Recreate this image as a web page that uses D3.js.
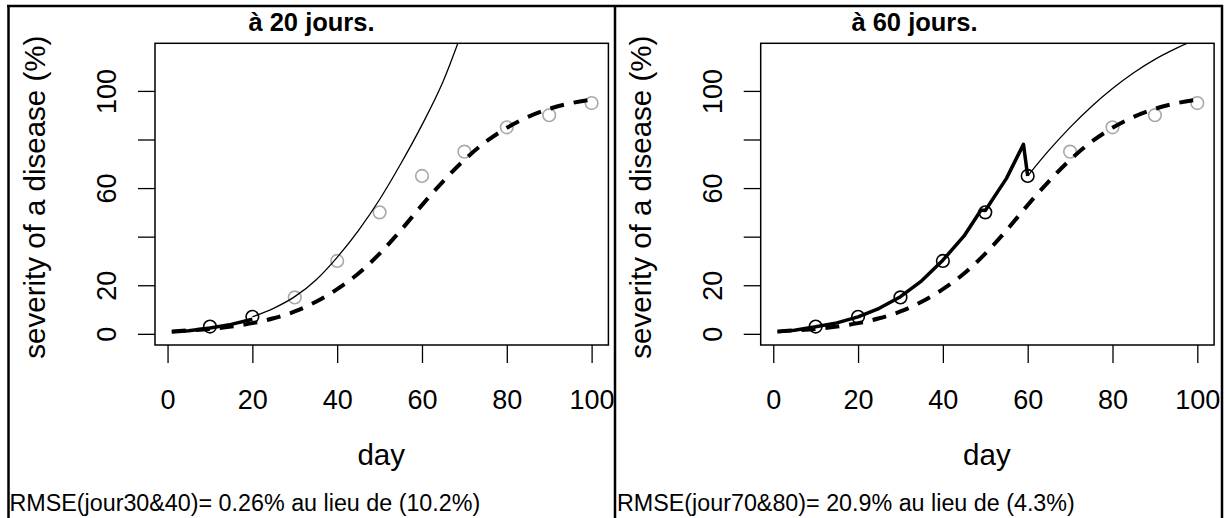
<!DOCTYPE html>
<html>
<head>
<meta charset="utf-8">
<script src="https://cdn.jsdelivr.net/npm/d3@7"></script>
<style>
  body { margin: 0; background: #fff; }
  svg text { font-family: "Liberation Sans", Arial, sans-serif; fill: #000; }
</style>
</head>
<body>
<script>
// observations (same for both panels)
var obsDays = [10, 20, 30, 40, 50, 60, 70, 80, 90, 100];
var obsVals = [3, 7, 15, 30, 50, 65, 75, 85, 90, 95];

// dashed reference curve
var refDays = [1, 5, 10, 15, 20, 25, 30, 35, 40, 45, 50, 55, 60, 65, 70, 75, 80, 85, 90, 95, 100];
var refVals = [1.0, 1.4, 2.0, 3.0, 4.4, 6.4, 9.2, 13.2, 18.4, 24.8, 33.0, 42.6, 53.0, 62.8, 71.6, 79.0, 84.8, 89.3, 92.6, 94.9, 96.4];

// panel 1 : assimilation up to day 20
var fit1Days = [1, 5, 10, 15, 20];
var fit1Vals = [0.7, 1.3, 2.4, 3.9, 6.0];
var fore1Days = [20, 25, 30, 35, 40, 45, 50, 55, 60, 65, 70];
var fore1Vals = [7.0, 10.5, 15.3, 22.2, 31.5, 42.5, 55.3, 70.0, 86.0, 104.0, 127.0];

// panel 2 : assimilation up to day 60
var fit2Days = [1, 5, 10, 15, 20, 25, 30, 35, 40, 45, 49, 50, 55, 59, 60];
var fit2Vals = [0.8, 1.5, 2.9, 4.5, 7.0, 10.5, 15.3, 21.8, 30.3, 40.3, 51.0, 50.8, 64.0, 78.0, 65.0];
var fore2Days = [60, 65, 70, 75, 80, 85, 90, 95, 100];
var fore2Vals = [65.0, 75.5, 85.0, 93.5, 101.0, 107.5, 113.0, 117.5, 121.5];

var xTicks = [0, 20, 40, 60, 80, 100];
var yTicks = [0, 20, 40, 60, 80, 100];
var yTickLabels = ["0", "20", "", "60", "", "100"];

var titles = ["à 20 jours.", "à 60 jours."];
var notes = ["RMSE(jour30&40)= 0.26% au lieu de (10.2%)", "RMSE(jour70&80)= 20.9% au lieu de (4.3%)"];
var nUsed = [2, 6];

var W = 1226, H = 518;
var svg = d3.select("body").append("svg").attr("width", W).attr("height", H);

var pw = 453.4, ph = 301.7;
var x = d3.scaleLinear().domain([-2.96, 103.96]).range([0, pw]);
var y = d3.scaleLinear().domain([-4.6, 119.6]).range([ph, 0]);

function pairs(a, b) { return a.map(function(v, i){ return [v, b[i]]; }); }

// outer frames
svg.append("line").attr("x1", 7).attr("x2", 1223).attr("y1", 6).attr("y2", 6)
  .attr("stroke", "#000").attr("stroke-width", 2.5);
[8.5, 615, 1222].forEach(function(px){
  svg.append("line").attr("x1", px).attr("x2", px).attr("y1", 5).attr("y2", H)
    .attr("stroke", "#000").attr("stroke-width", 2.5);
});

function drawPanel(k, ox, fitD, fitV, foreD, foreV) {
  var g = svg.append("g").attr("transform", "translate(" + ox + ",43.3)");

  g.append("clipPath").attr("id", "clip" + k)
    .append("rect").attr("width", pw).attr("height", ph);

  // axes
  var xa = g.append("g").attr("transform", "translate(0," + ph + ")")
    .call(d3.axisBottom(x).tickValues(xTicks).tickSize(18));
  var ya = g.append("g")
    .call(d3.axisLeft(y).tickValues(yTicks).tickSize(17)
      .tickFormat(function(d, i){ return yTickLabels[i]; }));
  [xa, ya].forEach(function(a){
    a.select(".domain").remove();
    a.selectAll(".tick line").attr("stroke", "#000").attr("stroke-width", 1.3);
    a.selectAll("text").attr("font-size", 27).attr("font-family", "Liberation Sans, Arial, sans-serif").attr("fill", "#000");
  });
  xa.selectAll("text").attr("dy", null).attr("y", 64);
  ya.selectAll("text").attr("x", null).attr("dy", null)
    .attr("transform", "translate(-39,0) rotate(-90)")
    .attr("text-anchor", "middle");

  g.append("rect").attr("width", pw).attr("height", ph)
    .attr("fill", "none").attr("stroke", "#000").attr("stroke-width", 1.5);

  var plot = g.append("g").attr("clip-path", "url(#clip" + k + ")");

  plot.selectAll("circle").data(pairs(obsDays, obsVals)).enter().append("circle")
    .attr("cx", function(d){ return x(d[0]); })
    .attr("cy", function(d){ return y(d[1]); })
    .attr("r", 6.3)
    .attr("fill", "none")
    .attr("stroke", function(d, i){ return i < nUsed[k] ? "#000" : "#a9a9a9"; })
    .attr("stroke-width", 1.6);

  var lin = d3.line().x(function(d){ return x(d[0]); }).y(function(d){ return y(d[1]); });
  var smooth = d3.line().curve(d3.curveMonotoneX)
    .x(function(d){ return x(d[0]); }).y(function(d){ return y(d[1]); });

  plot.append("path").datum(pairs(refDays, refVals)).attr("d", smooth)
    .attr("fill", "none").attr("stroke", "#000").attr("stroke-width", 4)
    .attr("stroke-dasharray", "14,10");
  plot.append("path").datum(pairs(fitD, fitV)).attr("d", lin)
    .attr("fill", "none").attr("stroke", "#000").attr("stroke-width", 3.5)
    .attr("stroke-linejoin", "round");
  plot.append("path").datum(pairs(foreD, foreV)).attr("d", smooth)
    .attr("fill", "none").attr("stroke", "#000").attr("stroke-width", 1.3);

  // labels
  g.append("text").attr("x", pw / 2 - 0.5).attr("y", 422)
    .attr("text-anchor", "middle").attr("font-size", 29.5).text("day");
  g.append("text").attr("transform", "translate(" + (-110) + "," + (ph / 2 + 3) + ") rotate(-90)")
    .attr("text-anchor", "middle").attr("font-size", 29.5).text("severity of a disease (%)");
  g.append("text").attr("x", 311.5 - ox + (k ? 603 : 0)).attr("y", -12.5)
    .attr("text-anchor", "middle").attr("font-size", 25.5).attr("font-weight", "bold")
    .text(titles[k]);
  g.append("text").attr("x", (k ? 617 : 9.5) - ox).attr("y", 468)
    .attr("font-size", 23.3).text(notes[k]);
}

drawPanel(0, 155, fit1Days, fit1Vals, fore1Days, fore1Vals);
drawPanel(1, 760.7, fit2Days, fit2Vals, fore2Days, fore2Vals);
</script>
</body>
</html>
